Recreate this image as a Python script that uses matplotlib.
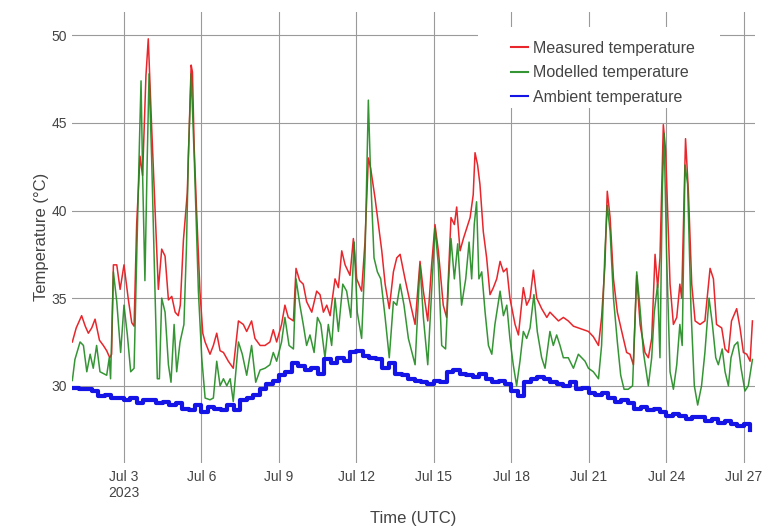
import datetime
import numpy as np
import matplotlib
matplotlib.use('Agg')
import matplotlib.pyplot as plt
import matplotlib.dates as mdates
from matplotlib.patches import Rectangle

plt.rcParams['font.family'] = ['Liberation Sans', 'DejaVu Sans']

start = datetime.datetime(2023, 7, 1)

# days after Jul 1 00:00 UTC
measured_days = [
    0.00, 0.15, 0.36, 0.50, 0.62, 0.75, 0.88, 1.05, 1.20, 1.33, 1.45, 1.52, 1.59, 1.72, 1.85,
    2.00, 2.17, 2.30, 2.39, 2.49, 2.62, 2.72, 2.85, 2.94, 3.07, 3.20, 3.33, 3.46, 3.59, 3.72,
    3.85, 3.98, 4.10, 4.18, 4.30, 4.45, 4.55, 4.60, 4.65, 4.72, 4.81, 4.94, 5.05, 5.14, 5.33,
    5.46, 5.59, 5.72, 5.85, 6.04, 6.23, 6.43, 6.62, 6.75, 6.94, 7.07, 7.27, 7.46, 7.65, 7.78,
    7.91, 8.10, 8.23, 8.36, 8.56, 8.66, 8.80, 8.94, 9.07, 9.27, 9.46, 9.59, 9.72, 9.85, 9.98,
    10.17, 10.30, 10.43, 10.56, 10.75, 10.88, 11.01, 11.20, 11.33, 11.46, 11.55, 11.72, 11.85,
    11.98, 12.11, 12.27, 12.43, 12.56, 12.69, 12.88, 13.07, 13.27, 13.46, 13.59, 13.76, 13.91,
    14.04, 14.17, 14.36, 14.49, 14.66, 14.79, 14.88, 15.01, 15.14, 15.27, 15.40, 15.52, 15.59,
    15.69, 15.78, 15.91, 16.04, 16.17, 16.30, 16.43, 16.56, 16.69, 16.82, 16.94, 17.14, 17.27,
    17.46, 17.59, 17.72, 17.85, 17.98, 18.17, 18.37, 18.49, 18.62, 18.82, 19.01, 19.20, 19.40,
    19.59, 19.79, 19.98, 20.17, 20.37, 20.49, 20.62, 20.71, 20.82, 20.95, 21.10, 21.27, 21.46,
    21.59, 21.72, 21.85, 21.98, 22.17, 22.30, 22.43, 22.56, 22.66, 22.75, 22.88, 22.97, 23.14,
    23.27, 23.40, 23.52, 23.59, 23.74, 23.85, 23.98, 24.11, 24.30, 24.49, 24.69, 24.82, 24.94,
    25.14, 25.27, 25.40, 25.52, 25.72, 25.85, 25.98, 26.11, 26.24, 26.33,
]
measured_temp = [
    32.5, 33.3, 34.0, 33.4, 33.0, 33.3, 33.8, 32.6, 32.3, 32.0, 31.6, 31.8, 36.9, 36.9, 35.5,
    36.9, 34.9, 33.6, 33.4, 39.2, 43.1, 42.0, 47.7, 49.8, 44.8, 40.1, 35.5, 37.8, 37.4, 34.9,
    35.1, 34.2, 34.0, 34.6, 38.3, 41.0, 46.0, 48.3, 47.9, 43.5, 40.0, 35.4, 33.0, 32.5, 31.8,
    32.3, 33.0, 32.0, 31.9, 31.4, 31.0, 33.7, 33.5, 33.1, 33.7, 32.7, 32.3, 32.3, 32.5, 33.2,
    32.5, 33.5, 34.6, 33.9, 33.7, 36.7, 36.0, 35.8, 34.8, 34.2, 35.4, 35.2, 34.2, 34.6, 34.0,
    36.1, 35.6, 37.7, 36.9, 36.3, 38.4, 36.1, 35.4, 38.2, 43.0, 42.4, 40.7, 39.2,
    37.7, 35.8, 34.4, 36.5, 37.3, 37.5, 36.1, 34.8, 33.5, 37.1, 35.4, 33.7, 36.9,
    39.2, 37.7, 34.6, 33.9, 39.6, 39.2, 40.2, 37.7, 38.4, 39.0, 39.6, 40.9, 43.3,
    42.6, 41.5, 38.8, 37.3, 35.2, 35.6, 36.1, 37.1, 36.5, 36.7, 35.0, 33.5, 32.9,
    35.6, 34.6, 35.0, 36.6, 35.0, 34.4, 33.9, 34.2, 34.0, 33.7, 33.9, 33.7, 33.4,
    33.3, 33.2, 33.1, 32.8, 32.3, 33.9, 36.9, 41.1, 39.6, 36.1, 34.2, 33.1, 31.9,
    31.8, 31.2, 36.3, 33.5, 31.9, 31.6, 32.7, 37.5, 35.6, 37.3, 44.9, 43.4, 35.8,
    33.5, 33.9, 35.8, 35.0, 44.1, 41.1, 35.8, 33.7, 33.5, 33.7, 36.7, 36.1, 33.5,
    33.3, 32.1, 31.9, 33.7, 34.4, 33.3, 31.9, 31.8, 31.4, 33.7,
]

modelled_days = [
    0.00, 0.10, 0.30, 0.43, 0.56, 0.69, 0.81, 0.94, 1.07, 1.20, 1.33, 1.43, 1.48, 1.59, 1.72,
    1.87, 2.00, 2.13, 2.26, 2.39, 2.49, 2.60, 2.66, 2.72, 2.81, 2.90, 2.97, 3.07, 3.20, 3.29,
    3.37, 3.46, 3.59, 3.72, 3.82, 3.94, 4.04, 4.17, 4.32, 4.42, 4.49, 4.60, 4.72, 4.88, 5.01,
    5.14, 5.33, 5.46, 5.59, 5.72, 5.85, 5.98, 6.11, 6.23, 6.43, 6.58, 6.75, 6.94, 7.10, 7.27,
    7.46, 7.65, 7.78, 7.91, 8.10, 8.23, 8.39, 8.56, 8.66, 8.81, 8.94, 9.07, 9.20, 9.36, 9.49,
    9.62, 9.78, 9.91, 10.04, 10.17, 10.30, 10.47, 10.62, 10.78, 10.91, 11.03, 11.20, 11.33,
    11.46, 11.55, 11.68, 11.81, 11.94, 12.11, 12.27, 12.43, 12.56, 12.69, 12.84, 13.01, 13.27,
    13.46, 13.59, 13.76, 13.91, 14.04, 14.17, 14.30, 14.45, 14.56, 14.66, 14.79, 14.92, 15.07,
    15.23, 15.36, 15.46, 15.56, 15.65, 15.74, 15.85, 15.98, 16.11, 16.24, 16.36, 16.56, 16.69,
    16.82, 16.94, 17.07, 17.20, 17.33, 17.46, 17.59, 17.72, 17.87, 18.00, 18.17, 18.30, 18.49,
    18.62, 18.75, 18.88, 19.01, 19.20, 19.40, 19.59, 19.72, 19.85, 19.98, 20.17, 20.37, 20.49,
    20.62, 20.71, 20.82, 20.95, 21.10, 21.23, 21.36, 21.52, 21.69, 21.85, 21.98, 22.11, 22.30,
    22.43, 22.53, 22.66, 22.75, 22.84, 22.91, 23.01, 23.14, 23.27, 23.40, 23.52, 23.61, 23.72,
    23.82, 23.95, 24.08, 24.21, 24.36, 24.49, 24.65, 24.78, 24.91, 25.01, 25.16, 25.27, 25.40,
    25.50, 25.63, 25.76, 25.89, 26.04, 26.17, 26.33,
]
modelled_temp = [
    30.3, 31.5, 32.5, 32.3, 30.8, 31.8, 31.0, 32.3, 30.8, 30.7, 30.6, 31.6, 30.4, 36.5, 34.8,
    31.9, 34.6, 32.9, 30.8, 31.0, 37.3, 44.0, 47.4, 42.1, 36.0, 43.0, 47.8, 43.0, 35.4, 30.4,
    30.4, 35.0, 34.2, 31.2, 30.2, 33.5, 30.8, 32.5, 33.5, 38.0, 43.0, 47.8, 43.0, 35.4, 31.6,
    29.3, 29.2, 29.3, 31.4, 30.0, 30.4, 30.0, 30.4, 29.1, 32.5, 31.8, 30.6, 32.3, 30.2, 30.9,
    31.0, 31.2, 31.9, 31.4, 32.5, 33.9, 32.3, 32.1, 36.1, 34.6, 33.5, 32.3, 32.9, 31.9, 33.9,
    33.5, 31.6, 33.5, 32.3, 35.0, 33.1, 35.8, 35.4, 33.9, 38.2, 34.2, 32.7, 37.3,
    46.3, 41.9, 37.3, 36.5, 36.1, 33.9, 31.6, 34.8, 34.6, 35.8, 34.6, 32.7, 31.2,
    36.9, 33.9, 31.2, 35.4, 39.0, 36.9, 32.3, 32.1, 35.8, 38.4, 36.1, 38.1, 34.6,
    36.1, 38.2, 36.1, 39.2, 40.5, 36.1, 36.5, 34.2, 32.3, 31.8, 33.5, 35.4, 34.0,
    34.6, 32.7, 31.2, 30.0, 31.4, 33.1, 32.7, 33.3, 35.2, 33.1, 31.6, 31.0, 33.1,
    32.3, 32.9, 32.3, 31.6, 31.6, 31.0, 31.8, 31.6, 31.4, 31.0, 30.8, 30.4, 32.3,
    37.7, 40.3, 38.8, 35.0, 32.5, 30.6, 29.8, 29.8, 30.0, 36.5, 34.4, 31.9, 30.0,
    31.6, 34.2, 35.8, 31.6, 41.1, 44.4, 37.3, 30.8, 29.8, 31.2, 33.5, 32.3, 42.6,
    41.5, 34.4, 30.0, 28.9, 30.0, 31.9, 35.0, 33.5, 31.6, 31.2, 32.1, 30.8, 30.0,
    31.6, 32.3, 32.5, 31.0, 29.7, 30.0, 31.5,
]

# ambient, every 6 hours from Jul 1 00:00
ambient_temp = [
    29.9, 29.8, 29.8, 29.7, 29.4, 29.5, 29.3, 29.3, 29.2, 29.3, 29.0, 29.2, 29.2, 29.0,
    29.1, 28.9, 29.0, 28.7, 28.6, 28.9, 28.5, 28.8, 28.7, 28.6, 28.9, 28.6, 29.2, 29.3,
    29.5, 29.8, 30.1, 30.3, 30.6, 30.8, 31.3, 31.1, 30.9, 31.0, 30.7, 31.5, 31.3, 31.6,
    31.4, 31.9, 32.0, 31.7, 31.6, 31.5, 31.0, 31.3, 30.7, 30.6, 30.4, 30.3, 30.2, 30.1,
    30.3, 30.2, 30.8, 30.9, 30.7, 30.6, 30.5, 30.7, 30.4, 30.2, 30.3, 30.1, 29.7, 29.4,
    30.2, 30.4, 30.5, 30.4, 30.2, 30.1, 30.0, 30.2, 29.8, 29.9, 29.6, 29.5, 29.6, 29.3,
    29.1, 29.2, 29.0, 28.7, 28.8, 28.6, 28.7, 28.5, 28.3, 28.4, 28.3, 28.1, 28.2, 28.2,
    28.0, 28.1, 27.9, 28.0, 27.8, 27.7, 27.8, 27.5,
]

tick_days = [2, 5, 8, 11, 14, 17, 20, 23, 26]
tick_labels = ['Jul 3\n2023', 'Jul 6', 'Jul 9', 'Jul 12', 'Jul 15', 'Jul 18', 'Jul 21', 'Jul 24', 'Jul 27']
y_ticks = [30, 35, 40, 45, 50]


def to_time(days):
    return [start + datetime.timedelta(days=d) for d in days]


ambient_days = [0.25 * i for i in range(len(ambient_temp))]

fig = plt.figure(figsize=(7.82, 5.29), dpi=100)
ax = fig.add_axes([0.0925, 0.125, 0.873, 0.853])

ax.plot(to_time(measured_days), measured_temp, color='#e8262b', lw=1.1, label='Measured temperature', zorder=2)
ax.plot(to_time(modelled_days), modelled_temp, color='#1f8a1f', lw=1.1, alpha=0.9, label='Modelled temperature', zorder=2.1)
ax.plot(to_time(ambient_days), ambient_temp, color='#1414e6', lw=3.0, drawstyle='steps-post',
        label='Ambient temperature', zorder=2.2)

ax.set_xlim(start, start + datetime.timedelta(days=26.43))
ax.set_ylim(25.6, 51.35)
ax.set_xticks(to_time(tick_days))
ax.set_xticklabels(tick_labels)
ax.set_yticks(y_ticks)

ax.set_axisbelow(True)
ax.grid(True, color='#9a9a9a', lw=0.8)
for s in ax.spines.values():
    s.set_visible(False)
ax.tick_params(length=0, labelsize=10, colors='#444444')
ax.tick_params(axis='x', pad=5)
ax.tick_params(axis='y', pad=4)

ax.set_xlabel('Time (UTC)', fontsize=12, color='#444444', labelpad=8)
ax.set_ylabel('Temperature (°C)', fontsize=12, color='#444444', labelpad=2)

# white box behind legend, covers the grid
ax.add_patch(Rectangle((0.594, 0.787), 0.355, 0.178, transform=ax.transAxes,
                       facecolor='white', edgecolor='none', zorder=3))
leg = ax.legend(loc='upper left', bbox_to_anchor=(0.633, 0.950), frameon=False, fontsize=11.5,
                handlelength=1.1, handletextpad=0.3, labelspacing=0.6, borderaxespad=0)
leg.set_zorder(5)
for t in leg.get_texts():
    t.set_color('#444444')
for h in leg.legend_handles:
    h.set_linewidth(1.5)

fig.savefig('out.png', dpi=100)
